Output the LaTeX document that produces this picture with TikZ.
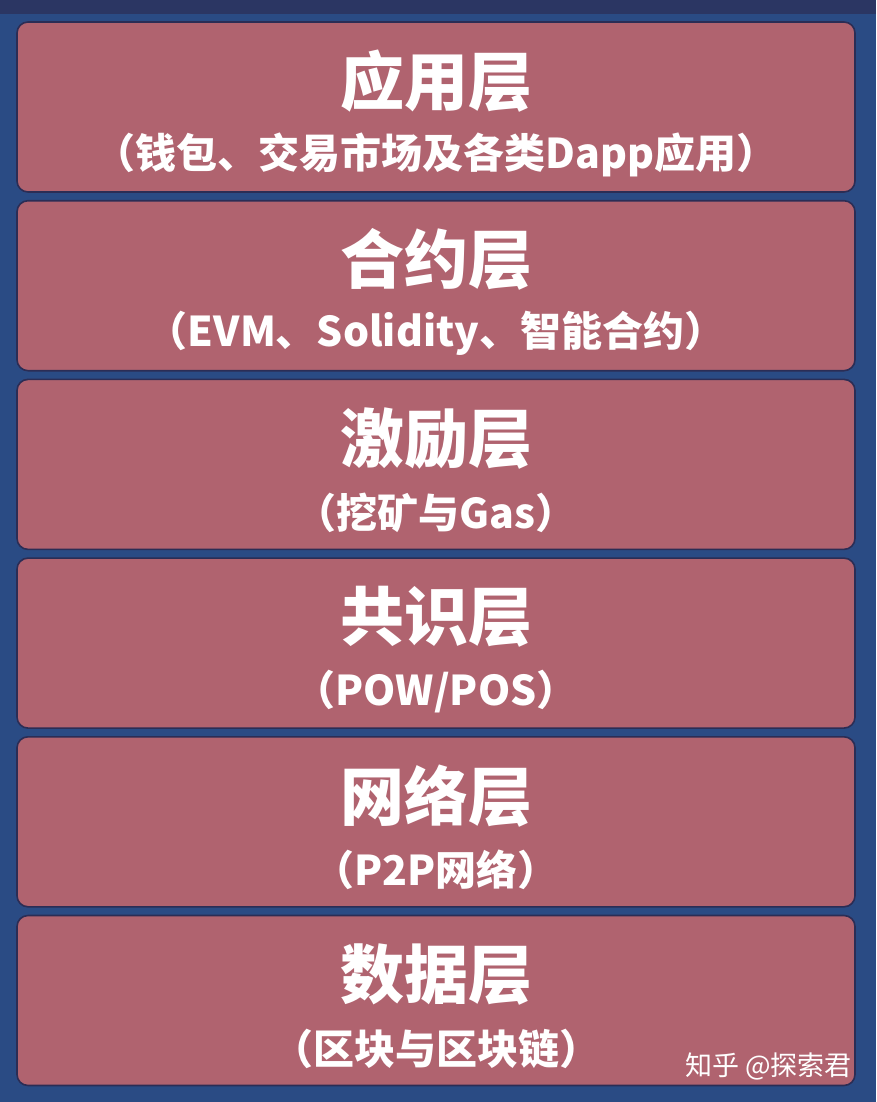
\documentclass[tikz,border=0pt]{standalone}
\usepackage{fontspec}
\newfontfamily\cjk{Noto Sans CJK SC}
\definecolor{bgblue}{HTML}{2A4B84}
\definecolor{boxred}{HTML}{B0636F}
\definecolor{edge}{HTML}{2B2D55}
\tikzset{
  layer/.style={fill=boxred, draw=edge, line width=1.6pt, rounded corners=11pt},
  ttl/.style={text=white, font=\cjk\bfseries\fontsize{64}{66}\selectfont, anchor=center, inner sep=0pt},
  sub/.style={text=white, font=\cjk\bfseries\fontsize{41}{43}\selectfont, anchor=center, inner sep=0pt},
  wmark/.style={text=white, font=\cjk\fontsize{27}{29}\selectfont, anchor=east, inner sep=0pt}
}
\begin{document}
\begin{tikzpicture}[x=1pt,y=-1pt]
\useasboundingbox (0,0) rectangle (876,1102);
\fill[bgblue] (0,0) rectangle (876,1102);
\fill[edge!70!bgblue] (0,0) rectangle (876,14);
\foreach \i/\t/\s [count=\k from 0] in {
  a/应用层/{（钱包、交易市场及各类Dapp应用）},
  b/合约层/{（EVM、Solidity、智能合约）},
  c/激励层/{（挖矿与Gas）},
  d/共识层/{（POW/POS）},
  e/网络层/{（P2P网络）},
  f/数据层/{（区块与区块链）}}{
  \pgfmathsetmacro{\ytop}{22+178.7*\k}
  \draw[layer] (17,\ytop) rectangle (855,\ytop+170);
  \node[ttl] (\i t) at (436,\ytop+59) {\t};
  \node[sub] (\i s) at (436,\ytop+133) {\s};
}
\node[wmark] (wm) at (852,1066) {知乎 @探索君};
\end{tikzpicture}
\end{document}
